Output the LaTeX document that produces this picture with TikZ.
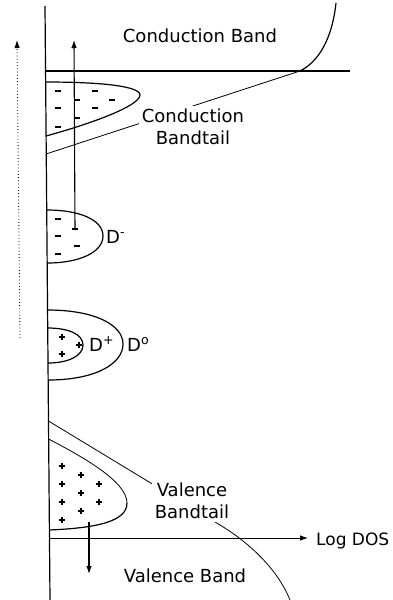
\documentclass[tikz,border=0pt]{standalone}
\usepackage{fontspec}
\setmainfont{DejaVu Sans}
\usetikzlibrary{arrows.meta}

\begin{document}
\begin{tikzpicture}[x=1pt, y=-1pt, font=\fontsize{18}{22}\selectfont]
    \tikzset{
        bandline/.style={line width=1.2pt},
        tailline/.style={line width=0.8pt},
        charge/.style={line width=1.1pt},
        bandlabel/.style={inner sep=0pt, align=center},
        cutlabel/.style={bandlabel, fill=white, inner sep=3pt},
        energyarrow/.style={line width=1.1pt, -{Latex[length=8pt,width=5.5pt]}},
        dotarrow/.style={line width=0.9pt, dash pattern=on 0.8pt off 2.4pt,
            -{Latex[length=8pt,width=5.5pt]}},
        axisarrow/.style={tailline, shorten >=8pt, -{Latex[length=8pt,width=5.5pt]}}
    }
    \useasboundingbox (0,0) rectangle (393,600);
    \coordinate (etop) at (45,6);
    \coordinate (ebot) at (50,600);
    \coordinate (cbleft) at (45.5,71);
    \coordinate (cbright) at (350,71);
    \coordinate (cbedge) at (300,71);
    \coordinate (cbfoot) at (46,154);
    \coordinate (vbtop) at (48.5,421);
    \coordinate (origin) at (49.5,538);
    \draw[bandline] (etop) -- (ebot);
    \draw[bandline] (cbleft) -- (cbright);
    \draw[bandline] (cbedge) .. controls (318,62) and (332,40) .. (336,3);
    \draw[tailline] (cbedge) -- (cbfoot);
    \draw[tailline] (vbtop) -- (220,525) .. controls (250,543) and (278,570) .. (290,600);
    % occupied states
    \draw[bandline] (45.6,82) .. controls (100,82) and (140,86) .. (140,95)
        .. controls (140,106) and (90,124) .. (46,136);
    \draw[bandline] (46.7,210) .. controls (80,210) and (103,220) .. (103,236)
        .. controls (103,252) and (80,263) .. (47.2,263);
    \draw[bandline] (47.5,310) .. controls (95,310) and (123,325) .. (123,344)
        .. controls (123,364) and (95,380) .. (48.2,380);
    \draw[bandline] (47.7,328) .. controls (68,328) and (83,334) .. (83,345)
        .. controls (83,356) and (68,363) .. (48,363);
    \draw[tailline] (48.6,439) .. controls (85,458) and (127,482) .. (127,503);
    \draw[bandline] (127,503) .. controls (127,522) and (95,528) .. (49.4,530);
    \foreach \x/\y in {58/91, 95/91, 77/100, 112/100, 58/108, 95/108, 77/118, 58/127,
                       58/219, 75/229, 58/236, 77/246, 58/254}
        \draw[charge] (\x-3,\y) -- (\x+3,\y);
    \foreach \x/\y in {62/337, 79/345, 62/354, 62/466, 81/475, 62/484, 99/484, 81/493,
                       62/502, 99/502, 81/511, 62/520}
        \draw[charge] (\x-2.7,\y) -- (\x+2.7,\y) (\x,\y-2.7) -- (\x,\y+2.7);
    % transitions
    \coordinate (upfoot) at (75,230);
    \coordinate (uptip) at (74,40);
    \coordinate (dotfoot) at (20,338);
    \coordinate (dottip) at (17,40);
    \coordinate (downtop) at (89,522);
    \coordinate (downtip) at (89,574);
    \draw[energyarrow] (upfoot) -- (uptip);
    \draw[dotarrow] (dotfoot) -- (dottip);
    \draw[energyarrow] (downtop) -- (downtip);
    % labels
    \node[bandlabel] (cbtext) at (200,36) {Conduction Band};
    \node[cutlabel] (cbtail) at (193,127) {Conduction\\Bandtail};
    \node[bandlabel, anchor=base west] (dminus) at (106,243) {D\textsuperscript{-}};
    \node[bandlabel, anchor=base west] (dplus) at (89,351) {D\textsuperscript{+}};
    \node[bandlabel, anchor=base west] (dzero) at (127,351) {D\textsuperscript{o}};
    \node[cutlabel] (vbtail) at (192,501) {Valence\\Bandtail};
    \node[bandlabel] (vbtext) at (185,576) {Valence Band};
    \node[bandlabel, anchor=base west, font=\fontsize{17}{22}\selectfont] (logdos)
        at (316,545) {Log DOS};
    \draw[axisarrow] (origin) -- (logdos.west |- origin);
\end{tikzpicture}
\end{document}
